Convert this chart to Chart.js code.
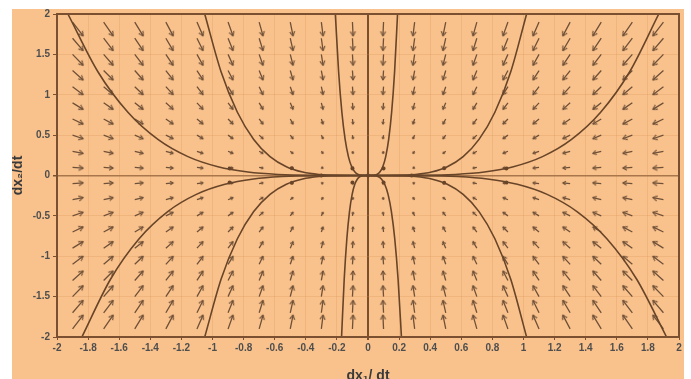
<!DOCTYPE html>
<html><head><meta charset="utf-8">
<script src="https://cdn.jsdelivr.net/npm/chart.js@4/dist/chart.umd.min.js"></script>
<style>
html,body{margin:0;padding:0;background:#fff;width:691px;height:379px;overflow:hidden}
#panel{position:absolute;left:12px;top:9px;width:672px;height:370px;background:#F9C28C;overflow:hidden}
#c{position:absolute;left:0;top:0}
</style></head><body>
<div id="panel"><canvas id="c" width="672" height="370"></canvas></div>
<script>
// ---- tick labels ----
const X_TICK_LABELS = ['-2','-1.8','-1.6','-1.4','-1.2','-1','-0.8','-0.6','-0.4','-0.2','0','0.2','0.4','0.6','0.8','1','1.2','1.4','1.6','1.8','2'];
const Y_TICK_LABELS = ['-2','-1.5','-1','-0.5','0','0.5','1','1.5','2'];
const X_TITLE = 'dx\u2081/ dt';
const Y_TITLE = 'dx\u2082/dt';

// ---- vector field grid (arrow tails) and components read per column / row ----
const ARROW_X = [-1.9,-1.7,-1.5,-1.3,-1.1,-0.9,-0.7,-0.5,-0.3,-0.1,0.1,0.3,0.5,0.7,0.9,1.1,1.3,1.5,1.7,1.9];
const ARROW_Y = [-1.9,-1.7,-1.5,-1.3,-1.1,-0.9,-0.7,-0.5,-0.3,-0.1,0.1,0.3,0.5,0.7,0.9,1.1,1.3,1.5,1.7,1.9];
const ARROW_U = [0.068,0.061,0.054,0.047,0.039,0.032,0.025,0.018,0.011,0.004,-0.004,-0.011,-0.018,-0.025,-0.032,-0.039,-0.047,-0.054,-0.061,-0.068];
const ARROW_V = [0.171,0.153,0.135,0.117,0.099,0.081,0.063,0.045,0.027,0.009,-0.009,-0.027,-0.045,-0.063,-0.081,-0.099,-0.117,-0.135,-0.153,-0.171];

// ---- trajectories ----
const CURVE_Y_UP   = [0, 0.002, 0.013, 0.043, 0.109, 0.234, 0.447, 0.783, 1.285, 2];
const CURVE_Y_DOWN = [0, -0.002, -0.013, -0.043, -0.109, -0.234, -0.447, -0.783, -1.285, -2];
const CURVE_UL_A = [0, -0.386, -0.579, -0.772, -0.965, -1.158, -1.351, -1.544, -1.737, -1.93];
const CURVE_UL_B = [0, -0.21, -0.315, -0.42, -0.525, -0.63, -0.735, -0.84, -0.945, -1.05];
const CURVE_UL_C = [0, -0.042, -0.063, -0.084, -0.105, -0.126, -0.147, -0.168, -0.189, -0.21];
const CURVE_UR_C = [0, 0.038, 0.057, 0.076, 0.095, 0.114, 0.133, 0.152, 0.171, 0.19];
const CURVE_UR_B = [0, 0.204, 0.306, 0.408, 0.51, 0.612, 0.714, 0.816, 0.918, 1.02];
const CURVE_UR_A = [0, 0.374, 0.561, 0.748, 0.935, 1.122, 1.309, 1.496, 1.683, 1.87];
const CURVE_LL_A = [0, -0.368, -0.552, -0.736, -0.92, -1.104, -1.288, -1.472, -1.656, -1.84];
const CURVE_LL_B = [0, -0.21, -0.315, -0.42, -0.525, -0.63, -0.735, -0.84, -0.945, -1.05];
const CURVE_LL_C = [0, -0.034, -0.051, -0.068, -0.085, -0.102, -0.119, -0.136, -0.153, -0.17];
const CURVE_LR_C = [0, 0.043, 0.0645, 0.086, 0.1075, 0.129, 0.1505, 0.172, 0.1935, 0.215];
const CURVE_LR_B = [0, 0.204, 0.306, 0.408, 0.51, 0.612, 0.714, 0.816, 0.918, 1.02];
const CURVE_LR_A = [0, 0.384, 0.576, 0.768, 0.96, 1.152, 1.344, 1.536, 1.728, 1.92];

// ---- dots on the trajectories ----
const DOT_X = [-0.89, -0.89, 0.89, 0.89, -0.49, -0.49, 0.49, 0.49, -0.3, 0.28, -0.1, -0.1, 0.1, 0.1, 0];
const DOT_Y = [0.086, -0.086, 0.086, -0.086, 0.09, -0.09, 0.09, -0.09, 0, 0, 0.088, -0.088, 0.088, -0.088, 0];

// ---- styles ----
const ARROW_COLOR = '#6f5038';
const CURVE_COLOR = '#684428';
const FRAME_COLOR = '#7a5030';

function zipXY(xs, ys){ return xs.map((x,i)=>({x:x, y:ys[i]})); }

const shaftData = [], headData = [];
ARROW_X.forEach((x,i)=>{
  ARROW_Y.forEach((y,j)=>{
    const hx = x + ARROW_U[i], hy = y + ARROW_V[j];
    shaftData.push({x:x,y:y},{x:hx,y:hy},{x:hx,y:null});
    headData.push({x:hx,y:hy,tx:x,ty:y});
  });
});

// chevron images of several sizes (pointing to +x, tip at centre)
const HEAD_SIZES = [1.5, 2, 2.5, 3, 3.5, 4, 4.5];
const headImgs = HEAD_SIZES.map(s=>{
  const c = document.createElement('canvas');
  const n = Math.ceil(s*2+4); c.width = n; c.height = n;
  const g = c.getContext('2d'); const m = n/2;
  g.strokeStyle = ARROW_COLOR; g.lineWidth = 1.3; g.lineCap='round'; g.lineJoin='round';
  g.beginPath();
  g.moveTo(m - s*Math.cos(Math.PI/6), m - s*Math.sin(Math.PI/6));
  g.lineTo(m, m);
  g.lineTo(m - s*Math.cos(Math.PI/6), m + s*Math.sin(Math.PI/6));
  g.stroke();
  return c;
});
function headGeom(ctx){
  const r = ctx.raw; const sx = ctx.chart.scales.x, sy = ctx.chart.scales.y;
  const dx = sx.getPixelForValue(r.x) - sx.getPixelForValue(r.tx);
  const dy = sy.getPixelForValue(r.y) - sy.getPixelForValue(r.ty);
  return {len: Math.hypot(dx,dy), ang: Math.atan2(dy,dx)*180/Math.PI};
}

function curveDS(xs, ys){
  return {type:'line', data: zipXY(xs, ys), borderColor: CURVE_COLOR, borderWidth: 1.6,
    pointRadius: 0, cubicInterpolationMode: 'monotone', fill:false, order: 1};
}

const framePlugin = {
  id:'frame',
  afterDatasetsDraw(chart){
    const a = chart.chartArea, g = chart.ctx;
    g.save(); g.strokeStyle = FRAME_COLOR; g.lineWidth = 2;
    g.strokeRect(a.left, a.top, a.right-a.left, a.bottom-a.top);
    g.restore();
  }
};

new Chart(document.getElementById('c'), {
  type: 'line',
  data: { datasets: [
    {data: shaftData, borderColor: ARROW_COLOR, borderWidth: 1.3, pointRadius: 0, spanGaps: false, tension: 0, order: 3},
    {type:'scatter', data: headData, order: 2,
      pointStyle: (ctx)=>{ const g = headGeom(ctx); let k = Math.round((Math.min(4.5, Math.max(1.5, g.len*0.42)) - 1.5)/0.5); return headImgs[Math.max(0,Math.min(6,k))]; },
      rotation: (ctx)=> headGeom(ctx).ang, pointRadius: 3},
    curveDS(CURVE_UL_A, CURVE_Y_UP), curveDS(CURVE_UL_B, CURVE_Y_UP), curveDS(CURVE_UL_C, CURVE_Y_UP),
    curveDS(CURVE_UR_A, CURVE_Y_UP), curveDS(CURVE_UR_B, CURVE_Y_UP), curveDS(CURVE_UR_C, CURVE_Y_UP),
    curveDS(CURVE_LL_A, CURVE_Y_DOWN), curveDS(CURVE_LL_B, CURVE_Y_DOWN), curveDS(CURVE_LL_C, CURVE_Y_DOWN),
    curveDS(CURVE_LR_A, CURVE_Y_DOWN), curveDS(CURVE_LR_B, CURVE_Y_DOWN), curveDS(CURVE_LR_C, CURVE_Y_DOWN),
    {type:'scatter', data: zipXY(DOT_X, DOT_Y), pointRadius: 2, pointBackgroundColor: CURVE_COLOR, pointBorderWidth: 0, order: 0}
  ]},
  options: {
    responsive: false, animation: false, events: [],
    layout: {padding: {top: 4, right: 3.5, left: 0, bottom: 0}},
    plugins: {legend: {display:false}, tooltip: {enabled:false}},
    scales: {
      x: {type:'linear', min:-2, max:2,
        afterFit(s){ s.height = 42; s.paddingLeft = 0; s.paddingRight = 0; },
        ticks: {stepSize:0.2, autoSkip:false, maxRotation:0, padding:2, color:'#4e4e4e',
          font:{family:'Liberation Sans', size:10, weight:'bold'},
          callback:(v,i)=>X_TICK_LABELS[i]},
        grid: {color:(c)=> (c.tick && Math.abs(c.tick.value)<1e-9) ? '#7a4f2c' : 'rgba(215,140,80,0.25)',
          lineWidth:(c)=> (c.tick && Math.abs(c.tick.value)<1e-9) ? 2 : 1,
          tickColor: FRAME_COLOR, tickLength: 3},
        border: {display:false},
        title: {display:true, text:X_TITLE, color:'#3a3a3a', font:{family:'Liberation Sans', size:14, weight:'bold'}, padding:{top:0,bottom:-6}}
      },
      y: {type:'linear', min:-2, max:2,
        afterFit(s){ s.width = 45; s.paddingTop = 0; s.paddingBottom = 0; },
        ticks: {stepSize:0.5, autoSkip:false, padding:3, color:'#4e4e4e',
          font:{family:'Liberation Sans', size:10, weight:'bold'},
          callback:(v,i)=>Y_TICK_LABELS[i]},
        grid: {color:(c)=> (c.tick && Math.abs(c.tick.value)<1e-9) ? '#a8764a' : 'rgba(215,140,80,0.25)',
          lineWidth:(c)=> (c.tick && Math.abs(c.tick.value)<1e-9) ? 1.5 : 1,
          tickColor: FRAME_COLOR, tickLength: 4},
        border: {display:false},
        title: {display:true, text:Y_TITLE, color:'#3a3a3a', font:{family:'Liberation Sans', size:14, weight:'bold', lineHeight:1}, padding:{top:-1,bottom:0}}
      }
    }
  },
  plugins: [framePlugin]
});
</script>
</body></html>
